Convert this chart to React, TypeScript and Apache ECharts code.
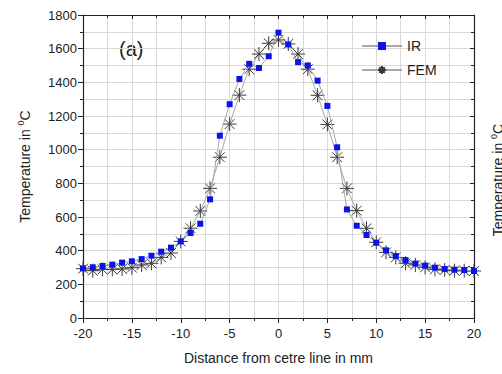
import React, { useEffect, useRef } from "react";
import * as echarts from "echarts";

const distances = [-20, -19, -18, -17, -16, -15, -14, -13, -12, -11, -10, -9, -8, -7, -6, -5, -4, -3, -2, -1, 0, 1, 2, 3, 4, 5, 6, 7, 8, 9, 10, 11, 12, 13, 14, 15, 16, 17, 18, 19, 20];
const irValues = [295, 301, 309, 317, 329, 337, 350, 370, 394, 418, 455, 505, 560, 705, 1083, 1270, 1420, 1510, 1485, 1555, 1695, 1625, 1520, 1500, 1410, 1260, 1014, 645, 548, 493, 447, 402, 368, 344, 323, 311, 299, 291, 287, 285, 279];
const femValues = [293, 281, 289, 289, 291, 299, 315, 325, 360, 386, 455, 533, 636, 770, 955, 1152, 1324, 1478, 1568, 1632, 1652, 1628, 1568, 1478, 1323, 1150, 955, 770, 638, 533, 450, 390, 360, 325, 315, 301, 289, 285, 281, 281, 279];

const seriesNames = ["IR", "FEM"];
const xTitle = "Distance from cetre line in mm";

const starPath = "path://M10 0 L10 20 M0 10 L20 10 M3 3 L17 17 M3 17 L17 3";

export default function App() {
  const ref = useRef<HTMLDivElement>(null);
  useEffect(() => {
    if (!ref.current) return;
    const chart = echarts.init(ref.current, undefined, { renderer: "svg" });
    const font = "Liberation Sans";
    const gridColor = "#d9d9d9";
    chart.setOption({
      animation: false,
      textStyle: { fontFamily: font },
      grid: { left: 83, right: 28, top: 15, bottom: 56 },
      legend: {
        orient: "vertical",
        left: 356,
        top: 34,
        itemWidth: 40,
        itemHeight: 10,
        itemGap: 10,
        textStyle: { fontSize: 14, color: "#222", fontFamily: font },
        data: seriesNames,
      },
      xAxis: [
        {
          type: "value",
          min: -20,
          max: 20,
          interval: 5,
          name: xTitle,
          nameLocation: "middle",
          nameGap: 33,
          nameTextStyle: { fontSize: 14, color: "#222" },
          axisLine: { show: true, onZero: false, lineStyle: { color: "#222", width: 1.2 } },
          axisTick: { show: true, length: 5, inside: false, lineStyle: { color: "#222" } },
          minorTick: { show: true, splitNumber: 2, length: 3, lineStyle: { color: "#222" } },
          axisLabel: { fontSize: 13, color: "#222", margin: 9 },
          splitLine: { show: true, lineStyle: { color: gridColor, width: 1 } },
          minorSplitLine: { show: true, lineStyle: { color: gridColor, width: 1 } },
        },
        {
          type: "value",
          position: "top",
          min: -20,
          max: 20,
          interval: 5,
          axisLine: { show: true, onZero: false, lineStyle: { color: "#222", width: 1.2 } },
          axisTick: { show: true, length: 4, inside: true, lineStyle: { color: "#222" } },
          minorTick: { show: true, splitNumber: 2, length: 3, lineStyle: { color: "#222" } },
          axisLabel: { show: false },
          splitLine: { show: false },
        },
      ],
      yAxis: [
        {
          type: "value",
          min: 0,
          max: 1800,
          interval: 200,
          name: "Temperature in {sup|0}C",
          nameLocation: "middle",
          nameGap: 50,
          nameTextStyle: {
            fontSize: 14,
            color: "#222",
            rich: { sup: { fontSize: 9, verticalAlign: "bottom", padding: [0, 0, 8, 0], color: "#222" } },
          },
          axisLine: { show: true, onZero: false, lineStyle: { color: "#222", width: 1.2 } },
          axisTick: { show: true, length: 5, inside: false, lineStyle: { color: "#222" } },
          minorTick: { show: true, splitNumber: 2, length: 3, lineStyle: { color: "#222" } },
          axisLabel: { fontSize: 13, color: "#222", margin: 6, formatter: (v: number) => String(v) },
          splitLine: { show: true, lineStyle: { color: gridColor, width: 1 } },
          minorSplitLine: { show: true, lineStyle: { color: gridColor, width: 1 } },
        },
        {
          type: "value",
          position: "right",
          min: 0,
          max: 1800,
          interval: 200,
          axisLine: { show: true, onZero: false, lineStyle: { color: "#222", width: 1.2 } },
          axisTick: { show: true, length: 4, inside: true, lineStyle: { color: "#222" } },
          minorTick: { show: true, splitNumber: 2, length: 3, lineStyle: { color: "#222" } },
          axisLabel: { show: false },
          splitLine: { show: false },
        },
      ],
      series: [
        {
          name: seriesNames[0],
          type: "line",
          data: distances.map((d, i) => [d, irValues[i]]),
          symbol: "rect",
          symbolSize: 6,
          itemStyle: { color: "#0a14e6", borderWidth: 0 },
          lineStyle: { color: "#a8a8a8", width: 1 },
          z: 3,
        },
        {
          name: seriesNames[1],
          type: "line",
          data: distances.map((d, i) => [d, femValues[i]]),
          symbol: starPath,
          symbolSize: 14,
          itemStyle: { color: "#222", borderColor: "#3a3a3a", borderWidth: 1 },
          lineStyle: { color: "#a8a8a8", width: 1 },
          z: 2,
        },
      ],
      graphic: [
        {
          type: "text",
          left: 119,
          top: 39,
          style: { text: "(a)", font: "20px 'Liberation Sans', sans-serif", fill: "#222" },
        },
        {
          type: "text",
          x: 489,
          y: 180,
          rotation: Math.PI / 2,
          style: {
            text: "Temperature in {sup|0}C",
            fontSize: 14,
            fill: "#222",
            fontFamily: font,
            align: "center",
            verticalAlign: "top",
            rich: { sup: { fontSize: 9, fill: "#222", padding: [0, 0, 8, 0] } },
          },
        },
      ],
    });
    return () => chart.dispose();
  }, []);
  return <div ref={ref} style={{ width: 502, height: 374, position: "absolute", left: 0, top: 0 }} />;
}
